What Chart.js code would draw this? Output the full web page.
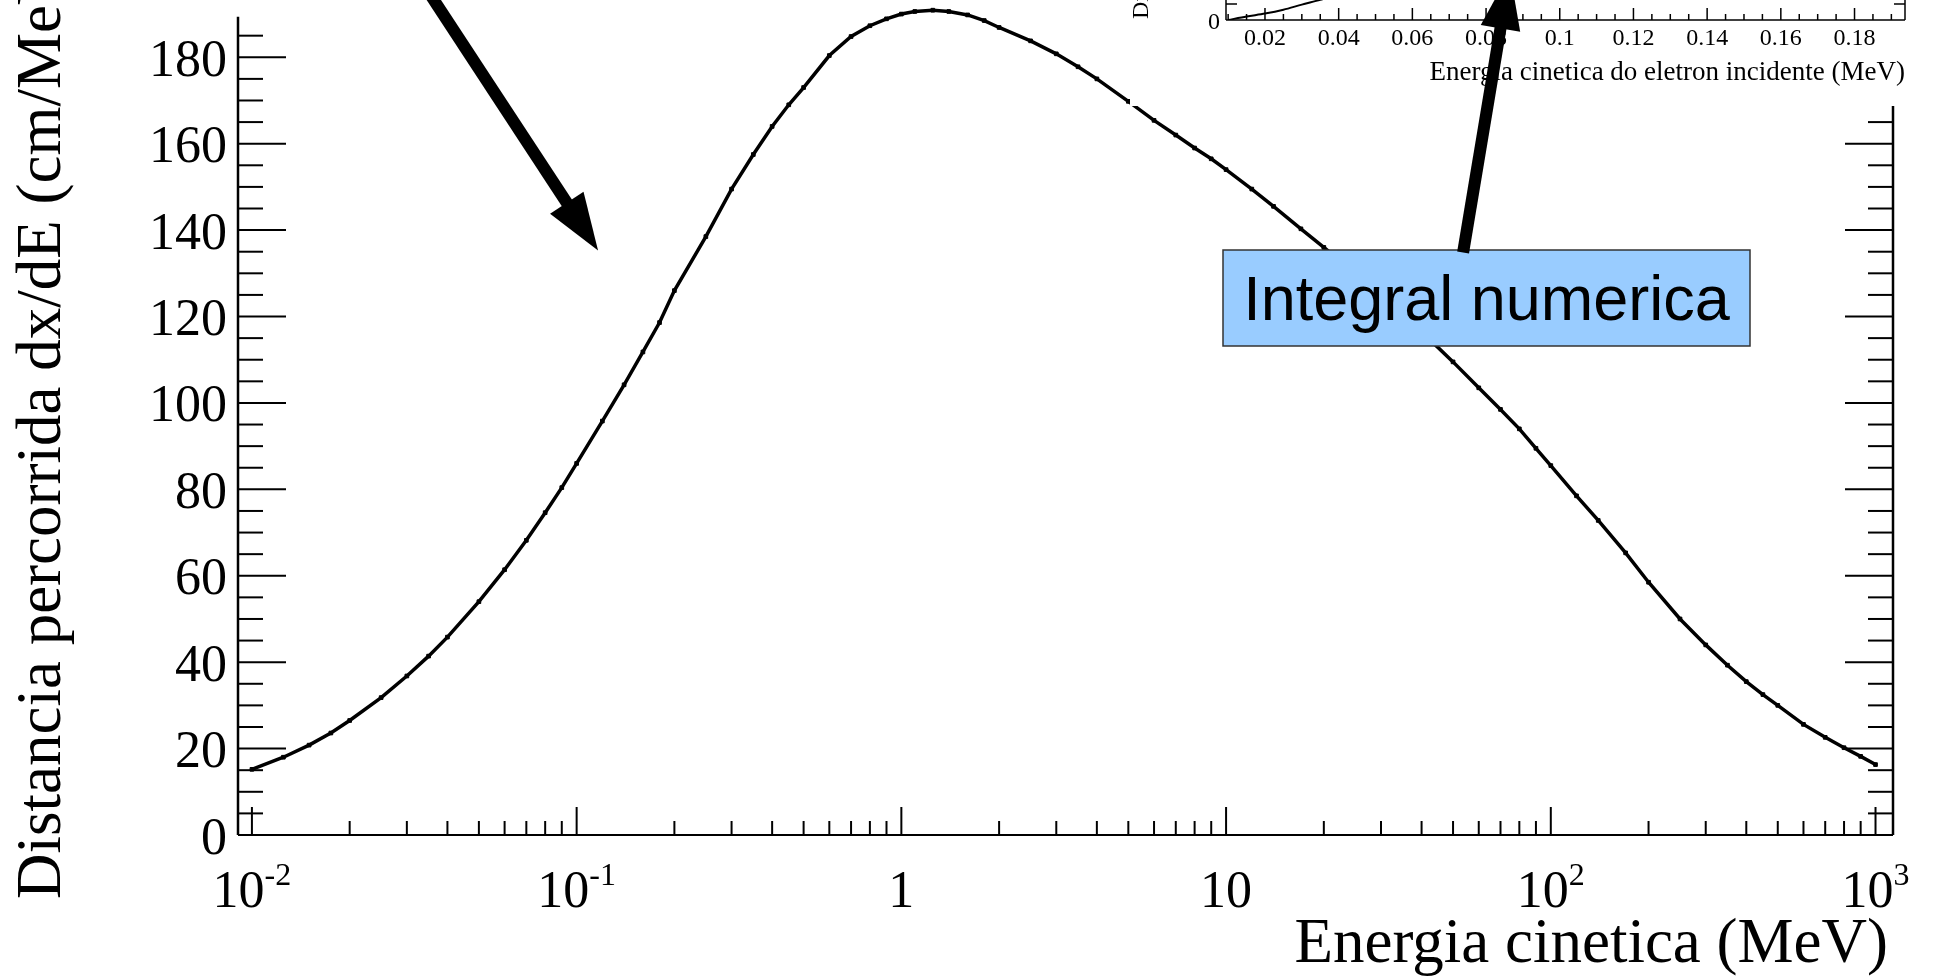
<!DOCTYPE html>
<html>
<head>
<meta charset="utf-8">
<script src="https://cdn.jsdelivr.net/npm/chart.js@4.4.0/dist/chart.umd.min.js"></script>
<style>
  html, body { margin: 0; padding: 0; background: #fff; overflow: hidden; }
  #wrap { position: relative; width: 1933px; height: 977px; }
  canvas { position: absolute; left: 0; top: 0; }
</style>
</head>
<body>
<div id="wrap">
  <canvas id="mainChart" width="1933" height="977"></canvas>
  <canvas id="insetChart" width="1933" height="977"></canvas>
</div>
<script>
// main curve: kinetic energy (MeV) vs dx/dE (cm/MeV)
var energy = [0.01, 0.0125, 0.015, 0.0175, 0.02, 0.025, 0.03, 0.035, 0.04, 0.05,
              0.06, 0.07, 0.08, 0.09, 0.1, 0.12, 0.14, 0.16, 0.18, 0.2,
              0.25, 0.3, 0.35, 0.4, 0.45, 0.5, 0.6, 0.7, 0.8, 0.9,
              1.0, 1.1, 1.25, 1.4, 1.6, 1.8, 2.0, 2.5, 3.0, 3.5,
              4.0, 5.0, 6.0, 7.0, 8.0, 9.0, 10, 12, 14, 17,
              20, 25, 30, 35, 40, 50, 60, 70, 80, 90,
              100, 120, 140, 170, 200, 250, 300, 350, 400, 450,
              500, 600, 700, 800, 900, 1000];
var dxdE = [15.2, 18.0, 20.8, 23.6, 26.5, 31.8, 36.8, 41.4, 45.8, 54.0,
            61.4, 68.2, 74.6, 80.4, 86.0, 95.8, 104.2, 111.8, 118.6, 126.0,
            138.5, 149.5, 157.5, 164.0, 169.0, 173.0, 180.4, 184.8, 187.3, 188.9,
            190.0, 190.6, 190.9, 190.6, 189.8, 188.5, 186.9, 183.8, 180.8, 177.8,
            175.0, 169.8, 165.4, 162.0, 159.0, 156.5, 154.0, 149.5, 145.5, 140.3,
            136.0, 130.0, 124.8, 120.5, 116.5, 109.5, 103.5, 98.5, 94.0, 89.5,
            85.5, 78.5, 72.8, 65.3, 58.5, 50.0, 44.0, 39.3, 35.5, 32.5,
            30.0, 25.6, 22.6, 20.2, 18.2, 16.3];

var yTicks = [0, 20, 40, 60, 80, 100, 120, 140, 160, 180];
var xDecades = [0.01, 0.1, 1, 10, 100, 1000];
var xTickBase = ["10", "10", "1", "10", "10", "10"];
var xTickExp = ["-2", "-1", "", "", "2", "3"];

// inset: range (integral of dx/dE) at low energy, only its bottom edge is visible
var insetEnergy = [0.01, 0.015, 0.02, 0.025, 0.03, 0.035, 0.04];
var insetRange = [0, 0.11, 0.2, 0.32, 0.48, 0.63, 0.8];
var insetTicks = [0.02, 0.04, 0.06, 0.08, 0.1, 0.12, 0.14, 0.16, 0.18];
var insetTickLabels = ["0.02", "0.04", "0.06", "0.08", "0.1", "0.12", "0.14", "0.16", "0.18"];

var SERIF = '"Liberation Serif", "DejaVu Serif", serif';

function line(ctx, x1, y1, x2, y2) {
    ctx.beginPath();
    ctx.moveTo(x1, y1);
    ctx.lineTo(x2, y2);
    ctx.stroke();
}

// thick ROOT style arrow, ends given in main chart data coords
function arrow(ctx, chart, from, to) {
    var xs = chart.scales.x, ys = chart.scales.y;
    var x1 = xs.getPixelForValue(from[0]), y1 = ys.getPixelForValue(from[1]);
    var x2 = xs.getPixelForValue(to[0]), y2 = ys.getPixelForValue(to[1]);
    var len = Math.hypot(x2 - x1, y2 - y1);
    var ux = (x2 - x1) / len, uy = (y2 - y1) / len;
    var headLen = 57, headHalf = 20;
    var bx = x2 - ux * headLen, by = y2 - uy * headLen;
    ctx.save();
    ctx.strokeStyle = "#000";
    ctx.fillStyle = "#000";
    ctx.lineWidth = 12;
    line(ctx, x1, y1, bx + ux * 4, by + uy * 4);
    ctx.beginPath();
    ctx.moveTo(x2, y2);
    ctx.lineTo(bx - uy * headHalf, by + ux * headHalf);
    ctx.lineTo(bx + uy * headHalf, by - ux * headHalf);
    ctx.closePath();
    ctx.fill();
    ctx.restore();
}

// axes, ticks and labels of the main frame
var rootAxes = {
    id: "rootAxes",
    afterDraw: function(chart) {
        var ctx = chart.ctx;
        var xs = chart.scales.x, ys = chart.scales.y;
        var a = chart.chartArea;
        var yTop = ys.getPixelForValue(189.4);
        ctx.save();
        ctx.strokeStyle = "#000";
        ctx.lineWidth = 2.5;
        line(ctx, a.left, yTop, a.left, a.bottom);
        line(ctx, a.right, yTop, a.right, a.bottom);
        ctx.lineWidth = 2;
        line(ctx, a.left, a.bottom, a.right, a.bottom);

        // y ticks, both sides, pointing inwards
        for (var v = 0; v <= 189; v += 5) {
            var py = ys.getPixelForValue(v);
            var len = (v % 20 === 0) ? 48 : 25;
            line(ctx, a.left, py, a.left + len, py);
            line(ctx, a.right, py, a.right - len, py);
        }
        // x ticks on log axis
        xDecades.forEach(function(d) {
            for (var m = 1; m <= 9; m++) {
                var val = m * d;
                if (val < xs.min || val > xs.max) continue;
                var px = xs.getPixelForValue(val);
                line(ctx, px, a.bottom, px, a.bottom - (m === 1 ? 28 : 14));
            }
        });

        ctx.fillStyle = "#000";
        ctx.textBaseline = "alphabetic";
        ctx.font = "52px " + SERIF;
        ctx.textAlign = "right";
        yTicks.forEach(function(t) {
            ctx.fillText(String(t), a.left - 11, ys.getPixelForValue(t) + 18.5);
        });

        ctx.textAlign = "left";
        xDecades.forEach(function(d, i) {
            ctx.font = "52px " + SERIF;
            var wb = ctx.measureText(xTickBase[i]).width;
            ctx.font = "32px " + SERIF;
            var we = xTickExp[i] ? ctx.measureText(xTickExp[i]).width : 0;
            var x0 = xs.getPixelForValue(d) - (wb + we) / 2;
            ctx.font = "52px " + SERIF;
            ctx.fillText(xTickBase[i], x0, a.bottom + 72);
            if (xTickExp[i]) {
                ctx.font = "32px " + SERIF;
                ctx.fillText(xTickExp[i], x0 + wb, a.bottom + 50);
            }
        });

        ctx.font = "63px " + SERIF;
        ctx.textAlign = "right";
        ctx.fillText("Energia cinetica (MeV)", a.right - 5, 962);

        ctx.save();
        ctx.translate(60, 899);
        ctx.rotate(-Math.PI / 2);
        ctx.textAlign = "left";
        ctx.fillText("Distancia percorrida dx/dE (cm/MeV)", 0, 0);
        ctx.restore();
        ctx.restore();
    }
};

var mainChart = new Chart(document.getElementById("mainChart"), {
    type: "scatter",
    data: {
        datasets: [{
            data: energy.map(function(e, i) { return { x: e, y: dxdE[i] }; }),
            showLine: true,
            borderColor: "#000",
            borderWidth: 3.5,
            pointRadius: 2.6,
            pointStyle: "rect",
            pointBackgroundColor: "#000",
            pointBorderColor: "#000",
            pointBorderWidth: 1,
            tension: 0
        }]
    },
    options: {
        responsive: false,
        animation: false,
        devicePixelRatio: 1,
        events: [],
        layout: { padding: { left: 238, right: 40, top: 0, bottom: 142 } },
        plugins: { legend: { display: false }, tooltip: { enabled: false } },
        scales: {
            x: { type: "logarithmic", min: 0.00906, max: 1132, display: false },
            y: { type: "linear", min: 0, max: 192.1, display: false }
        }
    },
    plugins: [rootAxes]
});

// inset pad, its axes, then the text box and arrows on top of everything
var insetDecor = {
    id: "insetDecor",
    beforeDraw: function(chart) {
        var ctx = chart.ctx;
        ctx.save();
        ctx.fillStyle = "#fff";
        ctx.fillRect(1130, 0, 803, 106);
        ctx.restore();
    },
    afterDraw: function(chart) {
        var ctx = chart.ctx;
        var xs = chart.scales.x, ys = chart.scales.y;
        var a = chart.chartArea;
        ctx.save();
        ctx.strokeStyle = "#000";
        ctx.lineWidth = 1.5;
        line(ctx, a.left, a.top, a.left, a.bottom);
        line(ctx, a.right, a.top, a.right, a.bottom);
        line(ctx, a.left, a.bottom, a.right, a.bottom);
        for (var k = 2; k <= 38; k++) {
            var v = k * 0.005;
            if (v > xs.max) break;
            var px = xs.getPixelForValue(v);
            line(ctx, px, a.bottom, px, a.bottom - (k % 4 === 0 ? 12 : 6));
        }
        var py = ys.getPixelForValue(0.5);
        line(ctx, a.left, py, a.left + 11, py);
        line(ctx, a.right, py, a.right - 11, py);

        ctx.fillStyle = "#000";
        ctx.font = "24px " + SERIF;
        ctx.textAlign = "center";
        insetTicks.forEach(function(t, i) {
            ctx.fillText(insetTickLabels[i], xs.getPixelForValue(t), a.bottom + 25);
        });
        ctx.textAlign = "right";
        ctx.fillText("0", a.left - 6, a.bottom + 9);
        ctx.font = "27px " + SERIF;
        ctx.fillText("Energia cinetica do eletron incidente (MeV)", a.right, 80);
        ctx.save();
        ctx.translate(1148, 19);
        ctx.rotate(-Math.PI / 2);
        ctx.textAlign = "left";
        ctx.font = "24px " + SERIF;
        ctx.fillText("Distancia percorrida (cm)", 0, 0);
        ctx.restore();

        // "Integral numerica" box
        ctx.fillStyle = "#99ccff";
        ctx.fillRect(1223, 250, 527, 96);
        ctx.strokeStyle = "#333";
        ctx.lineWidth = 1.5;
        ctx.strokeRect(1223, 250, 527, 96);
        ctx.fillStyle = "#000";
        ctx.font = '63px "Liberation Sans", Arial, sans-serif';
        ctx.textAlign = "center";
        ctx.fillText("Integral numerica", 1486.5, 320);
        ctx.restore();

        arrow(ctx, mainChart, [0.0288, 204.8], [0.1164, 135.3]);
        arrow(ctx, mainChart, [53.7, 134.8], [74.8, 199.7]);
    }
};

var insetChart = new Chart(document.getElementById("insetChart"), {
    type: "scatter",
    data: {
        datasets: [{
            data: insetEnergy.map(function(e, i) { return { x: e, y: insetRange[i] }; }),
            showLine: true,
            borderColor: "#000",
            borderWidth: 2,
            pointRadius: 0,
            tension: 0.3
        }]
    },
    options: {
        responsive: false,
        animation: false,
        devicePixelRatio: 1,
        events: [],
        layout: { padding: { left: 1226, right: 28, top: 0, bottom: 957 } },
        plugins: { legend: { display: false }, tooltip: { enabled: false } },
        scales: {
            x: { type: "linear", min: 0.00942, max: 0.1937, display: false },
            y: { type: "linear", min: 0, max: 0.625, display: false }
        }
    },
    plugins: [insetDecor]
});
</script>
</body>
</html>
